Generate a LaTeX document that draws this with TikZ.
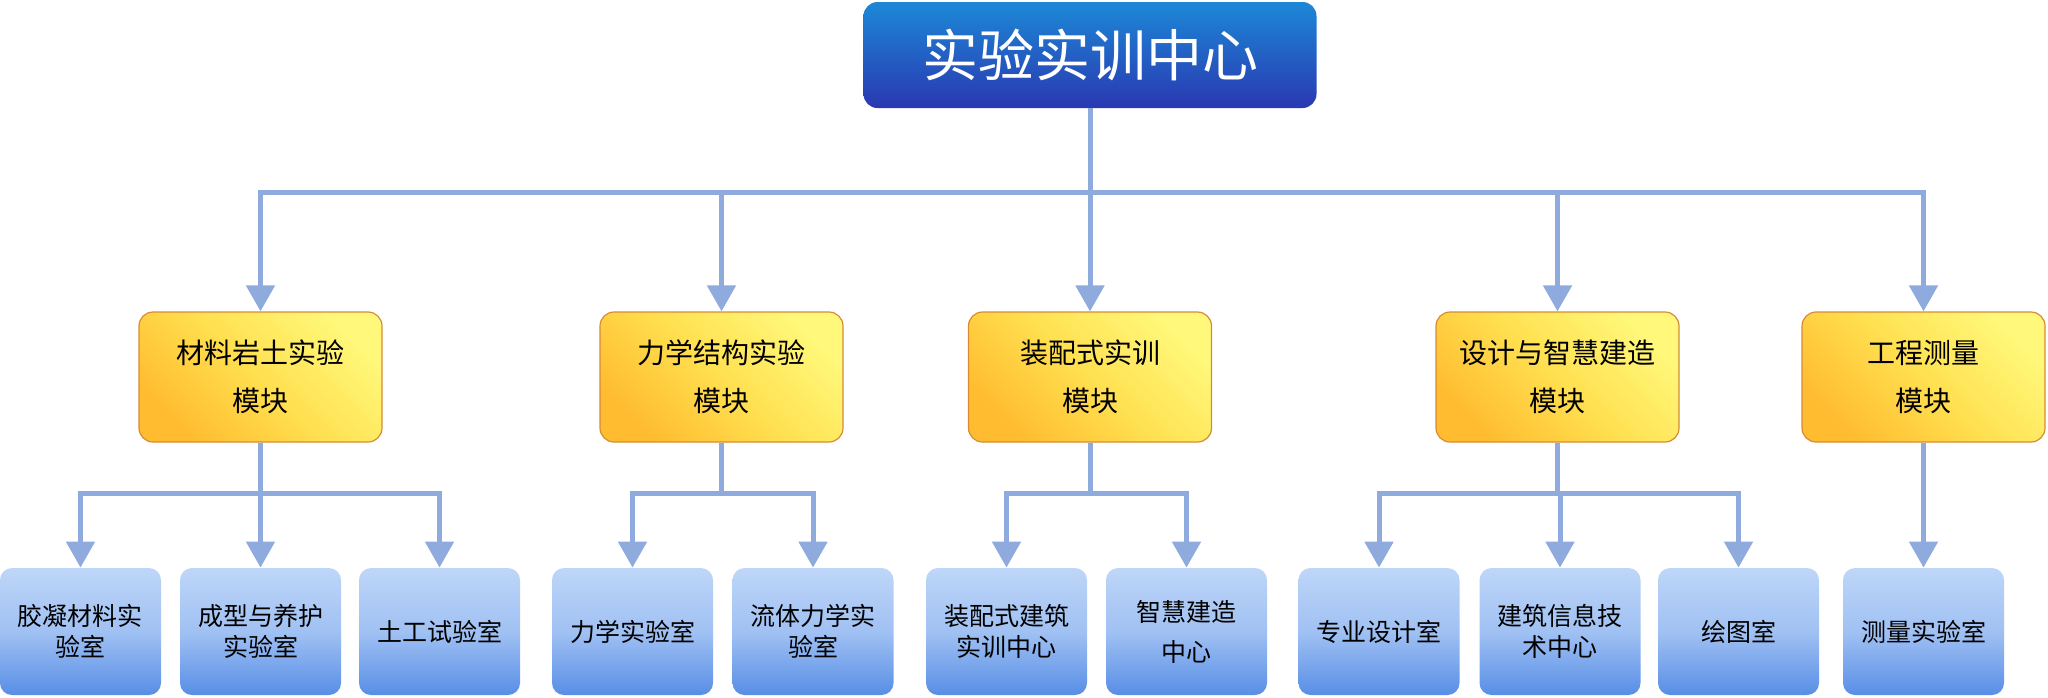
\documentclass[tikz,border=0pt]{standalone}
\usepackage{fontspec}
\setmainfont{Noto Sans CJK SC}
\usepackage{tikz}
\usetikzlibrary{arrows.meta,positioning,calc}

\definecolor{linkblue}{RGB}{143,170,220}
\definecolor{hubtop}{RGB}{28,136,214}
\definecolor{hubbot}{RGB}{42,56,178}
\definecolor{modlight}{RGB}{255,248,122}
\definecolor{modmid}{RGB}{255,224,80}
\definecolor{moddark}{RGB}{255,188,48}
\definecolor{modedge}{RGB}{214,140,52}
\definecolor{roomtop}{RGB}{190,214,248}
\definecolor{roommid}{RGB}{160,193,243}
\definecolor{roombot}{RGB}{88,142,230}

\tikzset{
  hub/.style={rounded corners=7pt, minimum width=226.5pt, minimum height=53pt,
    top color=hubtop, bottom color=hubbot, text=white,
    font=\fontsize{28pt}{32pt}\selectfont},
  module/.style={draw=modedge, line width=0.6pt, rounded corners=7pt,
    minimum width=121.5pt, minimum height=65pt,
    top color=modlight, bottom color=moddark, middle color=modmid, shading angle=-45,
    align=center, font=\fontsize{14pt}{24pt}\selectfont},
  room/.style={rounded corners=6pt, minimum width=80.5pt, minimum height=63.5pt,
    top color=roomtop, bottom color=roombot, middle color=roommid,
    align=center, font=\fontsize{12.5pt}{15.5pt}\selectfont},
  arrowlink/.style={draw=linkblue, line width=2.5pt,
    -{Triangle[width=14pt,length=13pt]}}
}

\begin{document}
\begin{tikzpicture}[x=0.5pt,y=-0.5pt]
\useasboundingbox (0,0) rectangle (2048,697);

\node[hub] (hub) at (1090,55) {实验实训中心};

\node[module] (m1) at (260.5,377) {材料岩土实验\\模块};
\node[module] (m2) at (721.5,377) {力学结构实验\\模块};
\node[module] (m3) at (1090,377) {装配式实训\\模块};
\node[module] (m4) at (1557.5,377) {设计与智慧建造\\模块};
\node[module] (m5) at (1923.5,377) {工程测量\\模块};

\node[room] (b1) at (80.5,631.5) {胶凝材料实\\验室};
\node[room] (b2) at (260.5,631.5) {成型与养护\\实验室};
\node[room] (b3) at (439.5,631.5) {土工试验室};
\node[room] (b4) at (632.5,631.5) {力学实验室};
\node[room] (b5) at (813,631.5) {流体力学实\\验室};
\node[room] (b6) at (1006.5,631.5) {装配式建筑\\实训中心};
\node[room] (b7) at (1186.5,631.5) {智慧建造\\[4.5pt]中心};
\node[room] (b8) at (1379,631.5) {专业设计室};
\node[room] (b9) at (1560,631.5) {建筑信息技\\术中心};
\node[room] (b10) at (1738.5,631.5) {绘图室};
\node[room] (b11) at (1923.5,631.5) {测量实验室};

\coordinate (bus0) at (0,192);
\coordinate (bus1) at (0,493);

\foreach \i in {1,...,5}
  \draw[arrowlink] (hub.south) -- (hub.south |- bus0) -| (m\i.north);

\foreach \b in {1,2,3}
  \draw[arrowlink] (m1.south) -- (m1.south |- bus1) -| (b\b.north);
\foreach \b in {4,5}
  \draw[arrowlink] (m2.south) -- (m2.south |- bus1) -| (b\b.north);
\foreach \b in {6,7}
  \draw[arrowlink] (m3.south) -- (m3.south |- bus1) -| (b\b.north);
\foreach \b in {8,9,10}
  \draw[arrowlink] (m4.south) -- (m4.south |- bus1) -| (b\b.north);
\draw[arrowlink] (m5.south) -- (b11.north);
\end{tikzpicture}
\end{document}
